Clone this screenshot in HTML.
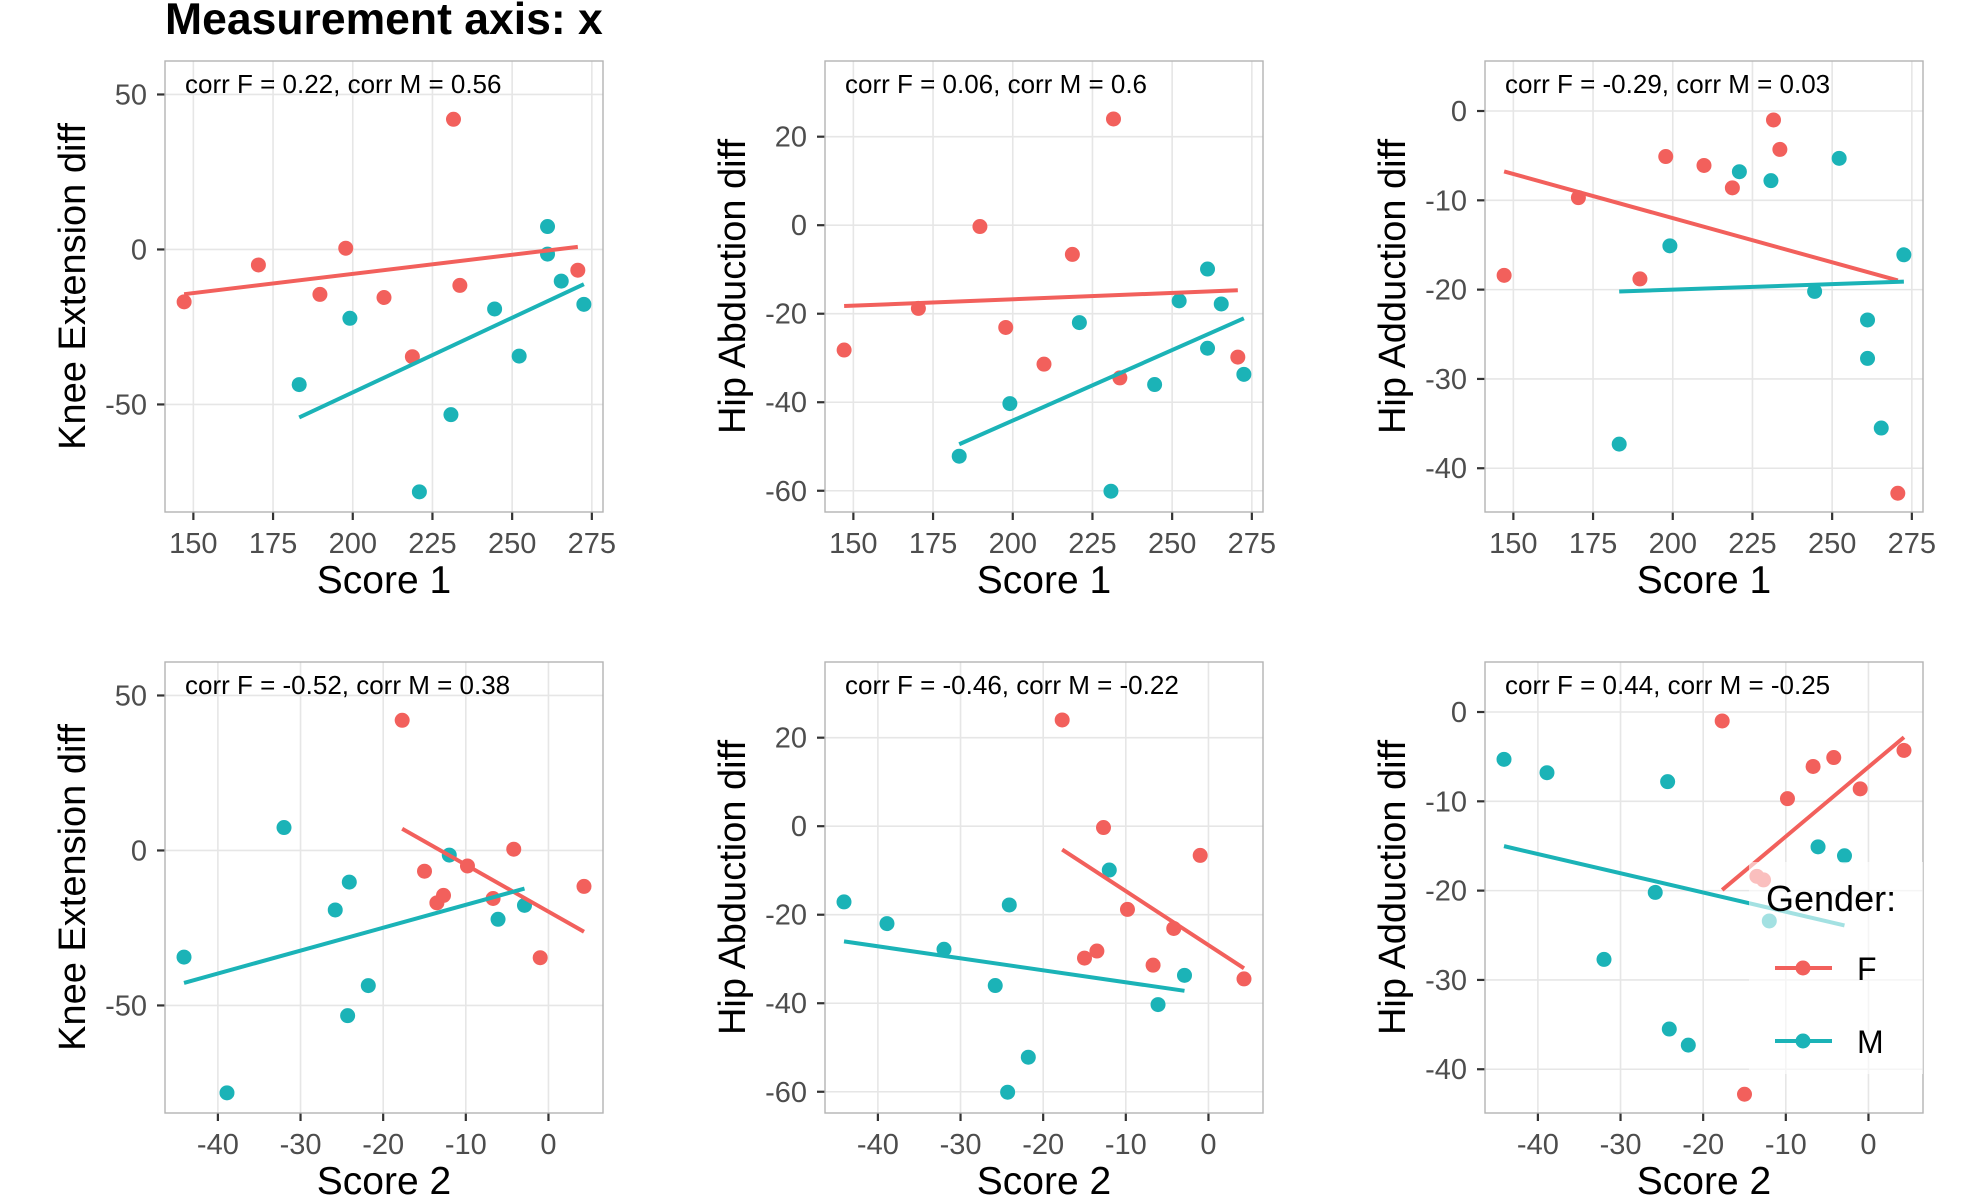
<!DOCTYPE html>
<html><head><meta charset="utf-8"><style>
html,body{margin:0;padding:0;background:#fff;}
svg{display:block;font-family:"Liberation Sans",Arial,sans-serif;}
</style></head><body>
<svg id="chart" width="1980" height="1200" viewBox="0 0 1980 1200" xmlns="http://www.w3.org/2000/svg">
<rect width="1980" height="1200" fill="#fff"/>
<text x="165" y="34" font-size="44.5" font-weight="bold" fill="#000">Measurement axis: x</text>
</svg>
<script>
// Female subjects
const score1F = [147.1,170.4,189.7,197.8,209.8,218.7,231.6,233.6,270.6];
const score2F = [-13.5,-9.8,-12.7,-4.2,-6.7,-1.0,-17.7,4.3,-15.0];
const kneeF = [-16.9,-5.0,-14.5,0.4,-15.5,-34.6,42.0,-11.6,-6.7];
const abdF = [-28.2,-18.8,-0.3,-23.1,-31.4,-6.6,24.0,-34.5,-29.8];
const addF = [-18.4,-9.7,-18.8,-5.1,-6.1,-8.6,-1.0,-4.3,-42.8];
// Male subjects
const score1M = [183.2,199.1,220.9,230.8,244.5,252.2,261.1,261.1,265.4,272.5];
const score2M = [-21.8,-6.1,-38.9,-24.3,-25.8,-44.1,-32.0,-12.0,-24.1,-2.9];
const kneeM = [-43.6,-22.2,-78.2,-53.3,-19.2,-34.4,7.4,-1.5,-10.2,-17.7];
const abdM = [-52.2,-40.3,-22.0,-60.1,-36.0,-17.1,-27.8,-9.9,-17.8,-33.7];
const addM = [-37.3,-15.1,-6.8,-7.8,-20.2,-5.3,-27.7,-23.4,-35.5,-16.1];
// Axis ticks
const ticksScore1 = [150,175,200,225,250,275];
const ticksScore2 = [-40,-30,-20,-10,0];
const ticksKnee = [50,0,-50];
const ticksAbd = [20,0,-20,-40,-60];
const ticksAdd = [0,-10,-20,-30,-40];
const corrLabels = ["corr F = 0.22, corr M = 0.56","corr F = 0.06, corr M = 0.6","corr F = -0.29, corr M = 0.03",
  "corr F = -0.52, corr M = 0.38","corr F = -0.46, corr M = -0.22","corr F = 0.44, corr M = -0.25"];

const NS="http://www.w3.org/2000/svg";
const svg=document.getElementById('chart');
const COLF="#F2605C", COLM="#1BB3B7";
function mk(tag,attrs,parent){const e=document.createElementNS(NS,tag);for(const k in attrs)e.setAttribute(k,attrs[k]);(parent||svg).appendChild(e);return e;}

const xs=[{name:"Score 1",dom:[141.1,278.5],ticks:ticksScore1,F:score1F,M:score1M},
          {name:"Score 2",dom:[-46.4,6.6],ticks:ticksScore2,F:score2F,M:score2M}];
const ys=[{name:"Knee Extension diff",dom:[-84.7,60.8],ticks:ticksKnee,F:kneeF,M:kneeM},
          {name:"Hip Abduction diff",dom:[-64.8,37.1],ticks:ticksAbd,F:abdF,M:abdM},
          {name:"Hip Adduction diff",dom:[-44.9,5.6],ticks:ticksAdd,F:addF,M:addM}];
const colX=[165,825,1485], rowY=[61,662], W=438, H=451;

function fit(x,y){const n=x.length;let mx=0,my=0;for(let i=0;i<n;i++){mx+=x[i];my+=y[i];}mx/=n;my/=n;
 let sxy=0,sxx=0;for(let i=0;i<n;i++){sxy+=(x[i]-mx)*(y[i]-my);sxx+=(x[i]-mx)**2;}const b=sxy/sxx;return [b,my-b*mx];}

for(let r=0;r<2;r++)for(let c=0;c<3;c++){
 const X=xs[r],Y=ys[c],x0=colX[c],y0=rowY[r];
 const sx=v=>x0+(v-X.dom[0])/(X.dom[1]-X.dom[0])*W;
 const sy=v=>y0+H-(v-Y.dom[0])/(Y.dom[1]-Y.dom[0])*H;
 const g=mk('g',{});
 
 
 X.ticks.forEach(t=>{const l=mk('line',{x1:sx(t),x2:sx(t),y1:y0,y2:y0+H,stroke:'#e6e6e6','stroke-width':1.6},g);
  });
 Y.ticks.forEach(t=>{const l=mk('line',{x1:x0,x2:x0+W,y1:sy(t),y2:sy(t),stroke:'#e6e6e6','stroke-width':1.6},g);
  });
 X.ticks.forEach(t=>{const tm=mk('line',{x1:sx(t),x2:sx(t),y1:y0+H,y2:y0+H+8,stroke:'#333','stroke-width':2.2},g);
  
  const tl=mk('text',{x:sx(t),y:y0+H+41,'text-anchor':'middle','font-size':29,fill:'#4d4d4d'},g);tl.textContent=t;
  });
 Y.ticks.forEach(t=>{const tm=mk('line',{x1:x0-8,x2:x0,y1:sy(t),y2:sy(t),stroke:'#333','stroke-width':2.2},g);
  
  const tl=mk('text',{x:x0-18,y:sy(t)+10,'text-anchor':'end','font-size':29,fill:'#4d4d4d'},g);tl.textContent=t;
  });
 const xt=mk('text',{x:x0+W/2,y:y0+H+81,'text-anchor':'middle','font-size':39,fill:'#000'},g);xt.textContent=X.name;
 
 const yt=mk('text',{x:0,y:0,'text-anchor':'middle','font-size':38,fill:'#000',transform:`translate(${x0-80},${y0+H/2}) rotate(-90)`},g);yt.textContent=Y.name;
 
 [['F',COLF],['M',COLM]].forEach(([k,col])=>{
  X[k].forEach((v,i)=>{const p=mk('circle',{cx:sx(v),cy:sy(Y[k][i]),r:7.5,fill:col},g);
   });
 });
 [['F',COLF],['M',COLM]].forEach(([k,col])=>{
  const [b,a]=fit(X[k],Y[k]);const mn=Math.min(...X[k]),mxv=Math.max(...X[k]);
  const l=mk('line',{x1:sx(mn),y1:sy(a+b*mn),x2:sx(mxv),y2:sy(a+b*mxv),stroke:col,'stroke-width':4},g);
  
 });
 const bd=mk('rect',{x:x0,y:y0,width:W,height:H,fill:'none',stroke:'#b3b3b3','stroke-width':1.4},g);
 
 const ct=mk('text',{x:x0+20,y:y0+32,'font-size':26,fill:'#000'},g);ct.textContent=corrLabels[r*3+c];
 
}
const lg=mk('g',{});


const lbg=mk('rect',{x:1749,y:862,width:174,height:212,fill:'#fff','fill-opacity':0.6},lg);


const ltt=mk('text',{x:1766,y:911,'font-size':36,fill:'#000'},lg);ltt.textContent='Gender:';


[['F',COLF,968],['M',COLM,1041]].forEach(([k,col,yy])=>{
 const e=mk('g',{},lg);
 
 
 mk('line',{x1:1775,x2:1832,y1:yy,y2:yy,stroke:col,'stroke-width':4},e);
 mk('circle',{cx:1803,cy:yy,r:7.5,fill:col},e);
 const t=mk('text',{x:1857,y:yy+12,'font-size':32,fill:'#000'},e);t.textContent=k;
});
</script>
</body></html>
